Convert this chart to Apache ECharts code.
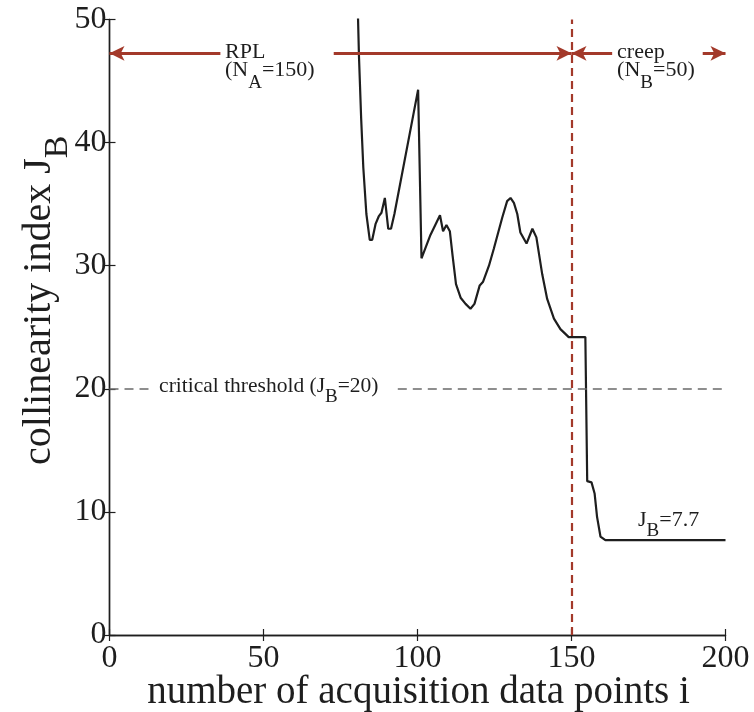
<!DOCTYPE html>
<html>
<head>
<meta charset="utf-8">
<script src="https://cdn.jsdelivr.net/npm/echarts@6/dist/echarts.min.js"></script>
<style>html,body{margin:0;padding:0;background:#fff;overflow:hidden;}#c{width:754px;height:712px;}</style>
</head>
<body>
<div id="c"></div>
<script>
// ---- data ----
const iValues = [80.5, 80.7, 81.0, 81.7, 82.4, 83.4, 84.5, 85.3, 86.4, 87.4, 88.3, 89.4, 90.5, 91.4, 92.5,
  100.2, 101.3, 104.2, 107.3, 108.3, 109.4, 110.5, 111.4, 112.5, 114.0, 115.6, 117.2, 118.5, 120.2, 121.3,
  123.2, 124.8, 127.5, 129.1, 130.2, 131.3, 132.4, 133.4, 135.4, 137.3, 138.6, 140.5, 142.1, 144.3, 146.4,
  149.1, 154.5, 155.1, 156.5, 157.5, 158.3, 159.4, 161.0, 200];
const jbValues = [56, 50, 47, 42, 38, 34.2, 32.1, 32.1, 33.4, 34.0, 34.3, 35.5, 33.0, 33.0, 34.2,
  44.3, 30.6, 32.5, 34.1, 32.8, 33.3, 32.8, 30.8, 28.5, 27.4, 26.9, 26.5, 26.9, 28.4, 28.7,
  30.0, 31.4, 33.9, 35.25, 35.5, 35.1, 34.2, 32.7, 31.8, 33.0, 32.3, 29.3, 27.3, 25.7, 24.85,
  24.2, 24.2, 12.5, 12.4, 11.5, 9.6, 8.0, 7.7, 7.7];
const xTickValues = [0, 50, 100, 150, 200];
const yTickValues = [0, 10, 20, 30, 40, 50];
const boundaryI = 150;        // N_A
const thresholdJB = 20;       // critical threshold
const finalJB = 7.7;
const arrowJB = 47.25;        // level of the range arrows
const arrowSegments = [       // [from, to, symbolFrom, symbolTo]
  [0, 36, 'arrow', 'none'],
  [72.8, 150, 'none', 'arrow'],
  [150, 163.2, 'arrow', 'none'],
  [192.6, 200, 'none', 'arrow']
];
const thresholdSegments = [[0, 13.2], [93.6, 200]];

// ---- chart ----
const FONT = 'Liberation Serif';
const INK = '#1e1e1e';
const RED = '#a3392a';
const chart = echarts.init(document.getElementById('c'), null, {renderer: 'canvas', width: 754, height: 712});

const markData = [];
arrowSegments.forEach(s => {
  markData.push([
    {coord: [s[0], arrowJB], symbol: s[2], symbolSize: [11, 15],
     lineStyle: {color: RED, width: 3, type: 'solid'}},
    {coord: [s[1], arrowJB], symbol: s[3], symbolSize: [11, 15]}
  ]);
});
thresholdSegments.forEach(s => {
  markData.push([
    {coord: [s[0], thresholdJB], symbol: 'none', lineStyle: {color: '#6a6a6a', width: 1.6, type: [9, 6]}},
    {coord: [s[1], thresholdJB], symbol: 'none'}
  ]);
});
markData.push([
  {coord: [boundaryI, 0], symbol: 'none', lineStyle: {color: RED, width: 2.2, type: [8, 5]}},
  {coord: [boundaryI, 50], symbol: 'none'}
]);

const axisLineStyle = {show: true, lineStyle: {color: INK, width: 1.4}};
const tickStyle = {show: true, inside: true, length: 6, lineStyle: {color: INK, width: 1.2}};

chart.setOption({
  animation: false,
  backgroundColor: '#fff',
  grid: {left: 109.5, width: 616, top: 19.5, height: 615.5, containLabel: false, outerBoundsMode: 'none'},
  xAxis: [{
    type: 'value', min: 0, max: 200, interval: 50, position: 'bottom',
    axisLine: axisLineStyle, axisTick: tickStyle, splitLine: {show: false},
    axisLabel: {fontSize: 32, fontFamily: FONT, color: INK, margin: 8,
      formatter: v => xTickValues.includes(v) ? String(v) : ''}
  }, {
    type: 'value', min: 0, max: 200, interval: 50, position: 'top',
    axisLine: axisLineStyle, axisTick: tickStyle, splitLine: {show: false}, axisLabel: {show: false}
  }],
  yAxis: [{
    type: 'value', min: 0, max: 50, interval: 10, position: 'left',
    axisLine: axisLineStyle, axisTick: tickStyle, splitLine: {show: false},
    axisLabel: {fontSize: 32, fontFamily: FONT, color: INK, margin: 3,
      formatter: v => yTickValues.includes(v) ? String(v) : ''}
  }, {
    type: 'value', min: 0, max: 50, interval: 10, position: 'right',
    axisLine: axisLineStyle, axisTick: tickStyle, splitLine: {show: false}, axisLabel: {show: false}
  }],
  series: [{
    type: 'line',
    data: iValues.map((x, k) => [x, jbValues[k]]),
    showSymbol: false, symbol: 'none', clip: true,
    lineStyle: {color: INK, width: 2.2},
    markLine: {silent: true, animation: false, label: {show: false}, data: markData}
  }]
});

// ---- text annotations (positioned from data coordinates) ----
function px(x, y) { return chart.convertToPixel({gridIndex: 0}, [x, y]); }
function richStyle(F, S, pad, L) {
  return {
    m: {fontSize: F, fontFamily: FONT, verticalAlign: 'top', lineHeight: L},
    s: {fontSize: S, fontFamily: FONT, verticalAlign: 'top', lineHeight: L, padding: [pad, 0, 0, 0]}
  };
}
function subText(x, yCenter, str, F, S, pad) {
  return {
    type: 'text', x: x, y: yCenter - F / 2, silent: true,
    style: {text: str, rich: richStyle(F, S, pad, F + pad + 4), fill: INK, align: 'left', verticalAlign: 'top'}
  };
}
const A = 22;
const pRPL = px(37.5, arrowJB);
const pCreep = px(164.8, arrowJB);
const pThr = px(16.1, thresholdJB);
const pFin = px(171.6, finalJB);
const pO = px(0, 0), pE = px(200, 50);
const graphics = [
  {type: 'text', x: pRPL[0], y: pRPL[1] - 1, silent: true,
   style: {text: 'RPL', font: A + 'px "' + FONT + '"', fill: INK, align: 'left', verticalAlign: 'middle'}},
  subText(pRPL[0], pRPL[1] + 17, '{m|(N}{s|A}{m|=150)}', A, 19, 14),
  {type: 'text', x: pCreep[0], y: pCreep[1] - 1, silent: true,
   style: {text: 'creep', font: A + 'px "' + FONT + '"', fill: INK, align: 'left', verticalAlign: 'middle'}},
  subText(pCreep[0], pCreep[1] + 17, '{m|(N}{s|B}{m|=50)}', A, 19, 14),
  subText(pThr[0], pThr[1] - 2.5, '{m|critical threshold (J}{s|B}{m|=20)}', 21.5, 19, 12),
  subText(pFin[0], pFin[1] - 20, '{m|J}{s|B}{m|=7.7}', A, 19, 12),
  // x-axis title
  {type: 'text', x: (pO[0] + pE[0]) / 2 + 1, y: pO[1] + 58, silent: true,
   style: {text: 'number of acquisition data points i', font: '39px "' + FONT + '"', fill: INK,
     align: 'center', verticalAlign: 'middle'}},
  // y-axis title, rotated
  {type: 'text', x: 19, y: (pO[1] + pE[1]) / 2 - 27, rotation: Math.PI / 2, silent: true,
   style: {text: '{m|collinearity index J}{s|B}', rich: richStyle(40, 34, 22.5, 68),
     fill: INK, align: 'center', verticalAlign: 'top'}}
];
chart.setOption({graphic: graphics});
</script>
</body>
</html>
